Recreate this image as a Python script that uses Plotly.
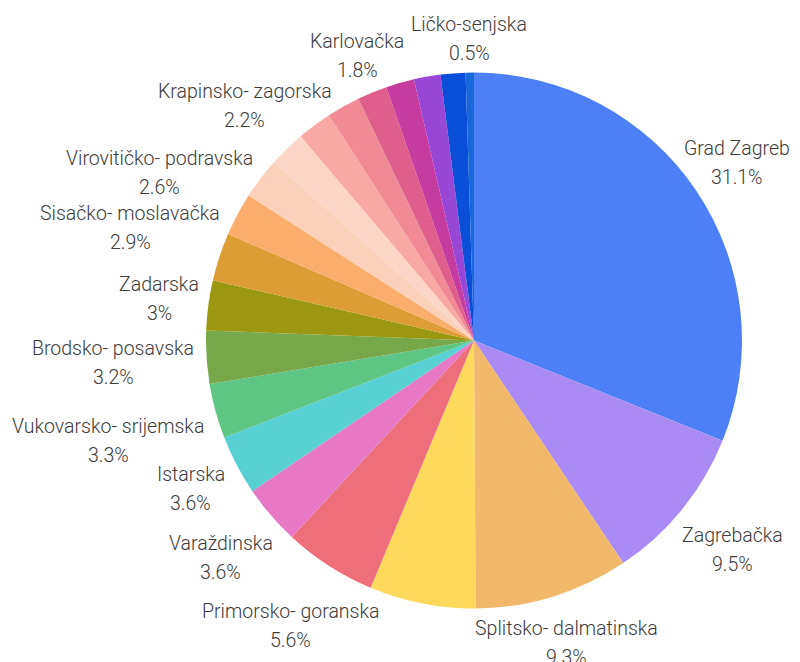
import math
import plotly.graph_objects as go

# County shares (percent), clockwise from 12 o'clock
counties = [
    "Grad Zagreb", "Zagrebačka", "Splitsko- dalmatinska", "Osječko- baranjska",
    "Primorsko- goranska", "Varaždinska", "Istarska", "Vukovarsko- srijemska",
    "Brodsko- posavska", "Zadarska", "Sisačko- moslavačka", "Virovitičko- podravska",
    "Međimurska", "Krapinsko- zagorska", "Šibensko- kninska", "Dubrovačko- neretvanska",
    "Karlovačka", "Koprivničko- križevačka", "Bjelovarsko- bilogorska",
    "Požeško- slavonska", "Ličko-senjska",
]
shares = [31.1, 9.5, 9.3, 6.4, 5.6, 3.6, 3.6, 3.3, 3.2, 3.0, 2.9, 2.6,
          2.5, 2.2, 2.1, 2.0, 1.8, 1.7, 1.6, 1.5, 0.5]
# counties whose label is printed next to the slice
labelled = [True, True, True, False, True, True, True, True, True, True, True, True,
            False, True, False, False, True, False, False, False, True]

colors = [
    "#4d80f6", "#aa8bf3", "#f1b86c", "#fed95b", "#ee6e7b", "#e678c6", "#57d0d3",
    "#5ec584", "#77a94a", "#9b9710", "#dd9d35", "#f9ae6e", "#fcd0b9", "#fdd5c8",
    "#f8a8a5", "#f08a96", "#df5e8c", "#c73ca0", "#9947d6", "#0b4fd8", "#1868dc",
]

W, H = 800, 662
CX, CY, R = 474, 340.5, 268      # pie centre and radius in pixels
GAP = 10.5                       # space between rim and nearest glyph box
FONT = 19.5
LINE_STEP = 29                   # distance between the two label lines
HALF_LINE = 9                    # half height of a line's glyph box
FONT_FAMILY = "Roboto"

fig = go.Figure(go.Pie(
    labels=counties,
    values=shares,
    textinfo="none",
    sort=False,
    direction="clockwise",
    rotation=0,
    marker=dict(colors=colors, line=dict(width=0)),
    domain=dict(x=[(CX - R) / W, (CX + R) / W],
                y=[(H - CY - R) / H, (H - CY + R) / H]),
    showlegend=False,
    hoverinfo="label+percent",
))

# approximate advance widths (em) of the label face
_w = {
    "a": .544, "b": .561, "c": .523, "d": .563, "e": .529, "g": .561, "h": .551,
    "i": .243, "j": .239, "k": .507, "l": .243, "m": .876, "n": .552, "o": .570,
    "p": .561, "r": .339, "s": .516, "t": .327, "u": .551, "v": .484, "z": .496,
    "č": .523, "ž": .496, "š": .516, " ": .248, "-": .276, ".": .264, "%": .733,
    "G": .68, "Z": .60, "K": .63, "V": .63, "S": .60, "B": .62, "P": .63,
    "I": .27, "L": .54,
}


def text_width(s):
    return sum(_w.get(ch, 0.562) for ch in s) * FONT


def fmt(v):
    return f"{v:g}%"


def box_distance(cx, cy, hw, hh):
    px = min(max(0.0, cx - hw), cx + hw)
    py = min(max(0.0, cy - hh), cy + hh)
    return math.hypot(px, py)


total = sum(shares)
start = 0.0
for name, val, show in zip(counties, shares, labelled):
    mid = (start + val / 2) / total * 2 * math.pi
    start += val
    if not show:
        continue
    lines = [name, fmt(val)]
    offsets = [-LINE_STEP / 2, LINE_STEP / 2]
    halfw = [text_width(t) / 2 for t in lines]
    vx, vy = math.sin(mid), -math.cos(mid)   # screen direction (y down)

    def nearest(d):
        cx, cy = d * vx, d * vy
        return min(box_distance(cx, cy + oy, hw, HALF_LINE)
                   for oy, hw in zip(offsets, halfw))

    lo, hi = R, R + 400
    for _ in range(60):
        m = (lo + hi) / 2
        if nearest(m) < R + GAP:
            lo = m
        else:
            hi = m
    bx, by = CX + lo * vx, CY + lo * vy
    hwmax = max(halfw)
    bx = min(max(bx, hwmax + 6), W - hwmax - 6)
    for t, oy in zip(lines, offsets):
        fig.add_annotation(
            x=bx / W, y=1 - (by + oy) / H, xref="paper", yref="paper",
            text=t, showarrow=False,
            xanchor="center", yanchor="middle", align="center",
            font=dict(family=FONT_FAMILY, size=FONT, color="#3b3b3b", weight=300),
        )

fig.update_layout(
    width=W, height=H,
    margin=dict(l=0, r=0, t=0, b=0),
    paper_bgcolor="white",
    plot_bgcolor="white",
)

fig.write_html("out.html")
